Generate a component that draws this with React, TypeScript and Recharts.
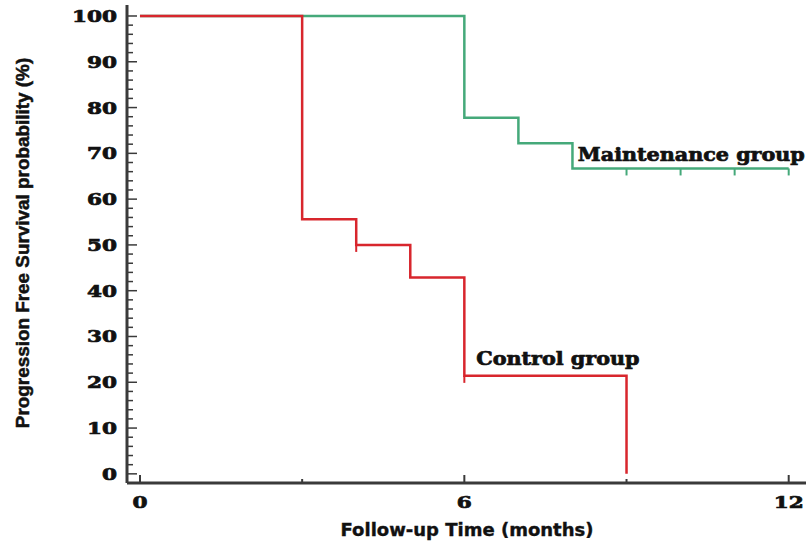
import React from 'react';
import { ComposedChart, Line, Scatter, XAxis, YAxis, ReferenceDot } from 'recharts';

const maintenanceTime = [0, 6, 7, 8, 12];
const maintenanceSurv = [100, 77.8, 72.2, 66.7, 66.7];
const maintenanceCensorTime = [9, 10, 11, 12];
const maintenanceCensorSurv = [66.7, 66.7, 66.7, 66.7];

const controlTime = [0, 3, 4, 5, 6, 9];
const controlSurv = [100, 55.6, 50, 42.9, 21.4, 0];
const controlCensorTime = [4, 6];
const controlCensorSurv = [50, 21.4];

const xTicks = [0, 3, 6, 9, 12];
const xLabelTicks = [0, 6, 12];
const yTicks = Array.from({ length: 51 }, (_, i) => i * 2);
const yLabelTicks = [0, 10, 20, 30, 40, 50, 60, 70, 80, 90, 100];

const maintenanceData = maintenanceTime.map((t, i) => ({ t, s: maintenanceSurv[i] }));
const controlData = controlTime.map((t, i) => ({ t, s: controlSurv[i] }));
const maintenanceCensor = maintenanceCensorTime.map((t, i) => ({ t, s: maintenanceCensorSurv[i] }));
const controlCensor = controlCensorTime.map((t, i) => ({ t, s: controlCensorSurv[i] }));

const GREEN = '#45a97a';
const RED = '#d8262d';
const AXIS = '#3a3a3a';
const SERIF = '"DejaVu Serif", serif';
const SANS = '"DejaVu Sans", sans-serif';

const YTick = (props: any) => {
  const { x, y, payload } = props;
  const ax = x + 10;
  const v = payload.value;
  const major = yLabelTicks.includes(v);
  return (
    <g>
      <line x1={ax} y1={y} x2={ax + (major ? 10 : 6)} y2={y} stroke={AXIS} strokeWidth={1.5} />
      {major && (
        <text
          transform={`translate(${ax - 10},${y + 6}) scale(1.35,1)`}
          textAnchor="end"
          fontFamily={SERIF}
          fontWeight="bold"
          fontSize={16}
          fill="#111"
          stroke="#111"
          strokeWidth={0.7}
        >
          {v}
        </text>
      )}
    </g>
  );
};

const XTick = (props: any) => {
  const { x, y, payload } = props;
  const ay = y - 10;
  const v = payload.value;
  const major = xLabelTicks.includes(v);
  return (
    <g>
      <line x1={x} y1={ay} x2={x} y2={ay - (major ? 8 : 4)} stroke={AXIS} strokeWidth={2} />
      {major && (
        <text
          transform={`translate(${x},${ay + 25}) scale(1.35,1)`}
          textAnchor="middle"
          fontFamily={SERIF}
          fontWeight="bold"
          fontSize={16}
          fill="#111"
          stroke="#111"
          strokeWidth={0.7}
        >
          {v}
        </text>
      )}
    </g>
  );
};

const CensorMark = (color: string) => (props: any) => {
  const { cx, cy } = props;
  return <line x1={cx} y1={cy} x2={cx} y2={cy + 7} stroke={color} strokeWidth={2} />;
};

const GroupLabel = (text: string) => (props: any) => {
  const { viewBox } = props;
  const x = viewBox.x + (viewBox.width || 0) / 2;
  const y = viewBox.y + (viewBox.height || 0) / 2;
  return (
    <text
      transform={`translate(${x},${y}) scale(1.15,1)`}
      textAnchor="start"
      fontFamily={SERIF}
      fontWeight="bold"
      fontSize={18}
      fill="#111"
      stroke="#111"
      strokeWidth={0.7}
    >
      {text}
    </text>
  );
};

export default function App() {
  return (
    <div style={{ position: 'absolute', left: 0, top: 0, width: 810, height: 544, background: '#fff' }}>
      <ComposedChart
        width={810}
        height={544}
        margin={{ top: 5, right: 4, bottom: 31, left: 0 }}
      >
        <XAxis
          dataKey="t"
          type="number"
          domain={[-0.24, 12.32]}
          ticks={xTicks}
          interval={0}
          allowDataOverflow
          height={30}
          tickLine={false}
          tickSize={0}
          tickMargin={10}
          axisLine={{ stroke: AXIS, strokeWidth: 3 }}
          tick={<XTick />}
        />
        <YAxis
          dataKey="s"
          type="number"
          domain={[-2, 102.4]}
          ticks={yTicks}
          interval={0}
          allowDataOverflow
          width={127}
          tickLine={false}
          tickSize={0}
          tickMargin={10}
          axisLine={{ stroke: AXIS, strokeWidth: 3 }}
          tick={<YTick />}
        />
        <Line
          data={maintenanceData}
          dataKey="s"
          type="stepAfter"
          stroke={GREEN}
          strokeWidth={2.5}
          dot={false}
          activeDot={false}
          isAnimationActive={false}
        />
        <Line
          data={controlData}
          dataKey="s"
          type="stepAfter"
          stroke={RED}
          strokeWidth={2.5}
          dot={false}
          activeDot={false}
          isAnimationActive={false}
        />
        <Scatter data={maintenanceCensor} dataKey="s" shape={CensorMark(GREEN)} isAnimationActive={false} />
        <Scatter data={controlCensor} dataKey="s" shape={CensorMark(RED)} isAnimationActive={false} />
        <ReferenceDot x={8.1} y={68.3} r={0} fill="none" stroke="none" label={GroupLabel('Maintenance group')} />
        <ReferenceDot x={6.22} y={23.8} r={0} fill="none" stroke="none" label={GroupLabel('Control group')} />
      </ComposedChart>
      <svg width={810} height={544} style={{ position: 'absolute', left: 0, top: 0, pointerEvents: 'none' }}>
        <text
          transform="translate(29,243) rotate(-90) scale(1.05,1)"
          textAnchor="middle"
          fontFamily={'"Liberation Sans", Arial, sans-serif'}
          fontWeight="bold"
          fontSize={18}
          fill="#111"
          stroke="#111"
          strokeWidth={0.5}
        >
          Progression Free Survival probability (%)
        </text>
        <text
          x={467}
          y={536}
          textAnchor="middle"
          fontFamily={SANS}
          fontWeight="bold"
          fontSize={18}
          fill="#111"
          stroke="#111"
          strokeWidth={0.4}
        >
          Follow-up Time (months)
        </text>
      </svg>
    </div>
  );
}
